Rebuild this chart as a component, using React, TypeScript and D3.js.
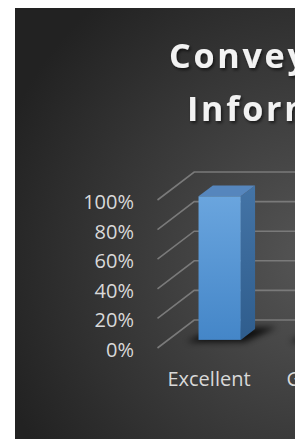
import React, { useEffect, useRef } from 'react';
import * as d3 from 'd3';

const categories = ['Excellent', 'Good', 'Fair', 'Poor'];
const values = [0.97, 0.02, 0.01, 0];
const ticks = [0, 0.2, 0.4, 0.6, 0.8, 1];
const titleLines = ['Conveys Useful', 'Information'];

const App: React.FC = () => {
  const svgRef = useRef<SVGSVGElement>(null);

  useEffect(() => {
    if (!svgRef.current) return;
    const svg = d3.select(svgRef.current);
    svg.selectAll('*').remove();

    const W = 295;
    const H = 439;
    // 3D depth of the floor (back minus front)
    const depthX = 36.7;
    const depthY = -28;
    const barFront = 0.29;
    const barBack = 0.68;

    const x = d3.scaleBand().domain(categories).range([157.5, 157.5 + 103 * categories.length]).padding(0);
    const y = d3.scaleLinear().domain([0, 1]).range([348, 200]);
    const barW = x.bandwidth() * 0.41;

    const defs = svg.append('defs');
    const bg = defs
      .append('radialGradient')
      .attr('id', 'bg')
      .attr('gradientUnits', 'userSpaceOnUse')
      .attr('cx', 320)
      .attr('cy', 260)
      .attr('r', 340);
    bg.append('stop').attr('offset', '0%').attr('stop-color', '#565656');
    bg.append('stop').attr('offset', '100%').attr('stop-color', '#222222');

    const front = defs.append('linearGradient').attr('id', 'front').attr('x1', 0).attr('y1', 0).attr('x2', 0).attr('y2', 1);
    front.append('stop').attr('offset', '0%').attr('stop-color', '#6aa5de');
    front.append('stop').attr('offset', '100%').attr('stop-color', '#4486c8');

    const side = defs.append('linearGradient').attr('id', 'side').attr('x1', 0).attr('y1', 0).attr('x2', 0).attr('y2', 1);
    side.append('stop').attr('offset', '0%').attr('stop-color', '#4474a6');
    side.append('stop').attr('offset', '100%').attr('stop-color', '#2f5d8d');

    const blur = defs.append('filter').attr('id', 'blur').attr('x', '-50%').attr('y', '-50%').attr('width', '200%').attr('height', '200%');
    blur.append('feGaussianBlur').attr('stdDeviation', 3);

    const tshadow = defs.append('filter').attr('id', 'tshadow').attr('x', '-10%').attr('y', '-20%').attr('width', '130%').attr('height', '150%');
    tshadow.append('feDropShadow').attr('dx', 1.5).attr('dy', 2).attr('stdDeviation', 1.5).attr('flood-color', '#000').attr('flood-opacity', 0.6);

    svg.append('rect').attr('x', 15).attr('y', 8).attr('width', W - 15).attr('height', H - 8).attr('fill', 'url(#bg)');

    // title
    svg
      .append('g')
      .selectAll('text')
      .data(titleLines)
      .enter()
      .append('text')
      .attr('x', (_, i) => (i === 0 ? 169 : 187))
      .attr('y', (_, i) => 68 + i * 53)
      .attr('fill', '#f2f2f2')
      .attr('filter', 'url(#tshadow)')
      .style('font-family', '"Open Sans", sans-serif')
      .style('font-weight', 'bold')
      .style('font-size', '34px')
      .style('letter-spacing', '2.8px')
      .text((d) => d);

    const x0 = x.range()[0];

    // gridlines: front diagonal then along the back wall
    svg
      .append('g')
      .selectAll('path')
      .data(ticks)
      .enter()
      .append('path')
      .attr('d', (t) => `M${x0},${y(t)}L${x0 + depthX},${y(t) + depthY}L${W + 10},${y(t) + depthY}`)
      .attr('fill', 'none')
      .attr('stroke', '#7a7a7a')
      .attr('stroke-width', 1.6);

    // value labels
    svg
      .append('g')
      .selectAll('text')
      .data(ticks)
      .enter()
      .append('text')
      .attr('x', 134)
      .attr('y', (t) => y(t) + 9)
      .attr('text-anchor', 'end')
      .attr('fill', '#d9d9d9')
      .style('font-family', '"Open Sans", sans-serif')
      .style('font-size', '20px')
      .text((t) => d3.format('.0%')(t));

    const fx = (d: number) => depthX * d;
    const fy = (d: number) => depthY * d;

    const bars = svg
      .append('g')
      .selectAll('g')
      .data(categories.map((c, i) => ({ c, v: values[i] })))
      .enter()
      .append('g');

    const geom = (c: string, v: number) => {
      const cx = (x(c) || 0) + x.bandwidth() / 2;
      const l = cx - barW / 2 + fx(barFront);
      const r = cx + barW / 2 + fx(barFront);
      const top = y(v) + fy(barFront);
      const bot = y(0) + fy(barFront);
      const ddx = fx(barBack) - fx(barFront);
      const ddy = fy(barBack) - fy(barFront);
      return { l, r, top, bot, ddx, ddy };
    };

    // shadow
    bars
      .append('path')
      .attr('d', (d) => {
        const g = geom(d.c, d.v);
        return `M${g.l - 12},${g.bot + 2}L${g.r + 4},${g.bot + 2}L${g.r + g.ddx + 22},${g.bot + g.ddy - 2}L${g.l + g.ddx},${g.bot + g.ddy}Z`;
      })
      .attr('fill', '#000')
      .attr('opacity', 0.8)
      .attr('filter', 'url(#blur)');

    // right side
    bars
      .append('path')
      .attr('d', (d) => {
        const g = geom(d.c, d.v);
        return `M${g.r},${g.top}L${g.r + g.ddx},${g.top + g.ddy}L${g.r + g.ddx},${g.bot + g.ddy}L${g.r},${g.bot}Z`;
      })
      .attr('fill', 'url(#side)');

    // top
    bars
      .append('path')
      .attr('d', (d) => {
        const g = geom(d.c, d.v);
        return `M${g.l},${g.top}L${g.r},${g.top}L${g.r + g.ddx},${g.top + g.ddy}L${g.l + g.ddx},${g.top + g.ddy}Z`;
      })
      .attr('fill', '#5686bd');

    // front
    bars
      .append('rect')
      .attr('x', (d) => geom(d.c, d.v).l)
      .attr('y', (d) => geom(d.c, d.v).top)
      .attr('width', barW)
      .attr('height', (d) => geom(d.c, d.v).bot - geom(d.c, d.v).top)
      .attr('fill', 'url(#front)');

    // category labels
    svg
      .append('g')
      .selectAll('text')
      .data(categories)
      .enter()
      .append('text')
      .attr('x', (c) => (x(c) || 0) + x.bandwidth() / 2)
      .attr('y', 386)
      .attr('text-anchor', 'middle')
      .attr('fill', '#d9d9d9')
      .style('font-family', '"Open Sans", sans-serif')
      .style('font-size', '20px')
      .text((c) => c);
  }, []);

  return (
    <svg
      ref={svgRef}
      width={295}
      height={439}
      style={{ position: 'absolute', left: 0, top: 0, display: 'block' }}
    ></svg>
  );
};

export default App;
